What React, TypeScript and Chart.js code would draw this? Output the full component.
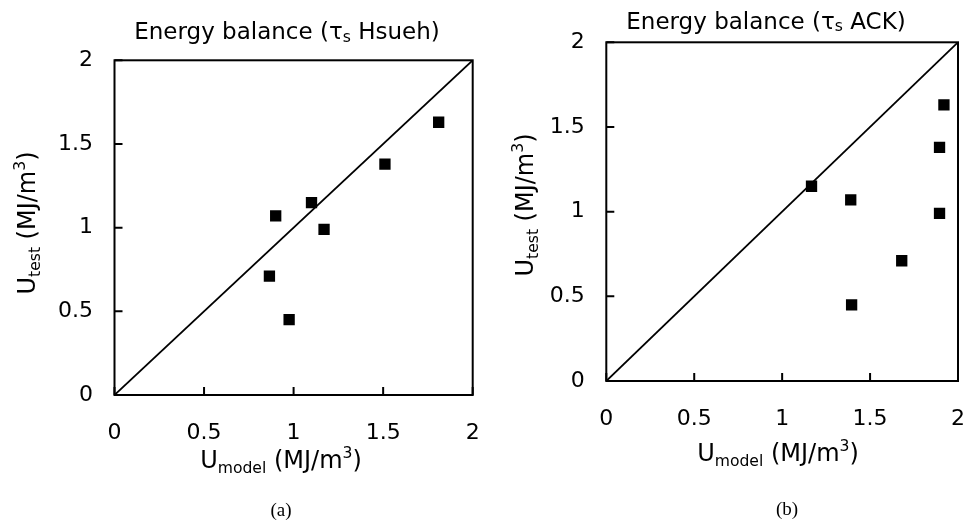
import React, { useEffect, useRef } from 'react';
import { Chart, registerables } from 'chart.js';

Chart.register(...registerables);

// ---- data ----
const yTest = [1.63, 1.38, 1.15, 1.07, 0.99, 0.71, 0.45];
const xModelHsueh = [1.81, 1.51, 1.1, 0.9, 1.17, 0.865, 0.975];
const xModelACK = [1.92, 1.895, 1.167, 1.39, 1.895, 1.68, 1.395];
const axisTicks = [0, 0.5, 1, 1.5, 2];
const tickLabels = ['0', '0.5', '1', '1.5', '2'];
const parityLine = [0, 2];

const FONT = 'DejaVu Sans';

type Seg = { t: string; k?: 'sub' | 'sup' };

interface PanelDef {
  id: string;
  offsetX: number;
  xValues: number[];
  area: { left: number; top: number; right: number; bottom: number };
  title: Seg[];
  titlePos: [number, number];
  xTitlePos: [number, number];
  yTitlePos: [number, number];
  caption: string;
  captionPos: [number, number];
}

const xTitleSegs: Seg[] = [{ t: 'U' }, { t: 'model', k: 'sub' }, { t: ' (MJ/m' }, { t: '3', k: 'sup' }, { t: ')' }];
const yTitleSegs: Seg[] = [{ t: 'U' }, { t: 'test', k: 'sub' }, { t: ' (MJ/m' }, { t: '3', k: 'sup' }, { t: ')' }];

const PANELS: PanelDef[] = [
  {
    id: 'a',
    offsetX: 0,
    xValues: xModelHsueh,
    area: { left: 114.5, top: 60.3, right: 472.7, bottom: 395 },
    title: [{ t: 'Energy balance (\u03C4' }, { t: 's', k: 'sub' }, { t: ' Hsueh)' }],
    titlePos: [287, 39],
    xTitlePos: [281, 468],
    yTitlePos: [35, 223],
    caption: '(a)',
    captionPos: [281, 516],
  },
  {
    id: 'b',
    offsetX: 483,
    xValues: xModelACK,
    area: { left: 123.3, top: 42.3, right: 476, bottom: 381 },
    title: [{ t: 'Energy balance (\u03C4' }, { t: 's', k: 'sub' }, { t: ' ACK)' }],
    titlePos: [283, 28.5],
    xTitlePos: [295, 461],
    yTitlePos: [50, 205],
    caption: '(b)',
    captionPos: [304, 515],
  },
];

const W = 483;
const H = 521;

function drawRich(
  ctx: CanvasRenderingContext2D,
  segs: Seg[],
  size: number,
  x: number,
  y: number,
  rot: number,
  subDy: number,
  smallFactor: number
) {
  const small = size * smallFactor;
  ctx.save();
  ctx.translate(x, y);
  if (rot) ctx.rotate(rot);
  ctx.textBaseline = 'alphabetic';
  ctx.textAlign = 'left';
  ctx.fillStyle = '#000';
  let total = 0;
  const widths = segs.map((s) => {
    ctx.font = `${s.k ? small : size}px "${FONT}"`;
    const w = ctx.measureText(s.t).width;
    total += w;
    return w;
  });
  let cx = -total / 2;
  segs.forEach((s, i) => {
    ctx.font = `${s.k ? small : size}px "${FONT}"`;
    const dy = s.k === 'sub' ? size * subDy : s.k === 'sup' ? -size * 0.4 : 0;
    ctx.fillText(s.t, cx, dy);
    cx += widths[i];
  });
  ctx.restore();
}

const tickLabel = (v: any) => {
  const i = axisTicks.indexOf(Number(v));
  return i >= 0 ? tickLabels[i] : '';
};

function Panel({ def }: { def: PanelDef }) {
  const ref = useRef<HTMLCanvasElement | null>(null);

  useEffect(() => {
    const canvas = ref.current;
    if (!canvas) return;
    const a = def.area;

    const deco = {
      id: 'deco' + def.id,
      afterDraw(chart: any) {
        const ctx: CanvasRenderingContext2D = chart.ctx;
        const ca = chart.chartArea;
        const xs = chart.scales.x;
        const ys = chart.scales.y;
        ctx.save();
        ctx.strokeStyle = '#000';
        ctx.lineWidth = 2;
        ctx.strokeRect(ca.left, ca.top, ca.right - ca.left, ca.bottom - ca.top);
        ctx.beginPath();
        axisTicks.forEach((v) => {
          const px = xs.getPixelForValue(v);
          ctx.moveTo(px, ca.bottom);
          ctx.lineTo(px, ca.bottom - 8);
          const py = ys.getPixelForValue(v);
          ctx.moveTo(ca.left, py);
          ctx.lineTo(ca.left + 8, py);
        });
        ctx.stroke();
        ctx.restore();

        drawRich(ctx, def.title, 23, def.titlePos[0], def.titlePos[1], 0, 0.13, 0.68);
        drawRich(ctx, xTitleSegs, 24, def.xTitlePos[0], def.xTitlePos[1], 0, 0.2, 0.65);
        drawRich(ctx, yTitleSegs, 24, def.yTitlePos[0], def.yTitlePos[1], -Math.PI / 2, 0.2, 0.65);

        ctx.save();
        ctx.font = '19px "Liberation Serif"';
        ctx.fillStyle = '#000';
        ctx.textAlign = 'center';
        ctx.textBaseline = 'alphabetic';
        ctx.fillText(def.caption, def.captionPos[0], def.captionPos[1]);
        ctx.restore();
      },
    };

    const tickFont = { family: FONT, size: 22 };

    const chart = new Chart(canvas, {
      type: 'scatter',
      data: {
        datasets: [
          {
            label: 'data',
            data: def.xValues.map((x, i) => ({ x, y: yTest[i] })),
            backgroundColor: '#000',
            borderWidth: 0,
            pointStyle: 'rect',
            pointRadius: 8,
            pointHoverRadius: 8,
            order: 0,
          },
          {
            label: '1:1',
            data: parityLine.map((v) => ({ x: v, y: v })),
            showLine: true,
            borderColor: '#000',
            borderWidth: 1.8,
            pointRadius: 0,
            order: 1,
          } as any,
        ],
      },
      options: {
        animation: false,
        responsive: false,
        devicePixelRatio: 1,
        layout: {
          padding: { left: 0, top: a.top, right: W - a.right, bottom: 0 },
        },
        plugins: {
          legend: { display: false },
          tooltip: { enabled: false },
        },
        scales: {
          x: {
            type: 'linear',
            min: 0,
            max: 2,
            grid: { display: false, drawTicks: false },
            border: { display: false },
            ticks: {
              stepSize: 0.5,
              color: '#000',
              font: tickFont,
              padding: 25,
              maxRotation: 0,
              autoSkip: false,
              callback: tickLabel,
            },
            afterFit(s: any) {
              s.height = H - a.bottom;
              s.paddingLeft = 0;
              s.paddingRight = 0;
            },
          },
          y: {
            type: 'linear',
            min: 0,
            max: 2,
            grid: { display: false, drawTicks: false },
            border: { display: false },
            ticks: {
              stepSize: 0.5,
              color: '#000',
              font: tickFont,
              padding: 21.5,
              autoSkip: false,
              callback: tickLabel,
            },
            afterFit(s: any) {
              s.width = a.left;
              s.paddingTop = 0;
              s.paddingBottom = 0;
            },
          },
        },
      },
      plugins: [deco],
    } as any);

    return () => chart.destroy();
  }, [def]);

  return (
    <canvas
      ref={ref}
      width={W}
      height={H}
      style={{ position: 'absolute', left: def.offsetX, top: 0, width: W, height: H }}
    />
  );
}

export default function App() {
  return (
    <div style={{ position: 'absolute', left: 0, top: 0, width: 966, height: 521, background: '#fff', overflow: 'hidden' }}>
      {PANELS.map((p) => (
        <Panel key={p.id} def={p} />
      ))}
    </div>
  );
}
